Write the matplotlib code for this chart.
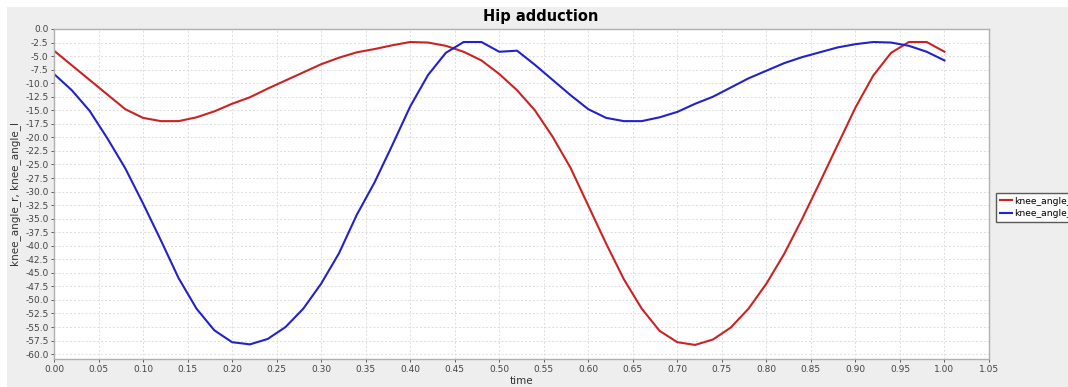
import matplotlib
matplotlib.use("Agg")
import matplotlib.pyplot as plt
import numpy as np
from matplotlib.patches import Rectangle
from matplotlib.ticker import MultipleLocator, FormatStrFormatter

# sample times and joint angles
time = [round(0.02 * i, 2) for i in range(51)]
knee_angle_r = [-4.0, -6.7, -9.4, -12.1, -14.8, -16.4, -17.0, -17.0, -16.3, -15.2,
                -13.8, -12.6, -11.0, -9.5, -8.0, -6.5, -5.3, -4.3, -3.7, -3.0,
                -2.4, -2.5, -3.1, -4.2, -5.8, -8.3, -11.3, -15.0, -19.9, -25.6,
                -32.6, -39.6, -46.2, -51.6, -55.7, -57.8, -58.3, -57.3, -55.1, -51.6,
                -47.0, -41.5, -35.1, -28.3, -21.4, -14.5, -8.6, -4.4, -2.4, -2.4,
                -4.2]
knee_angle_l = [-8.3, -11.3, -15.1, -20.2, -25.7, -32.2, -39.0, -46.0, -51.6, -55.6,
                -57.8, -58.2, -57.2, -55.0, -51.6, -47.0, -41.4, -34.3, -28.3, -21.4,
                -14.3, -8.5, -4.4, -2.4, -2.4, -4.2, -4.0, -6.6, -9.4, -12.2,
                -14.8, -16.4, -17.0, -17.0, -16.3, -15.3, -13.8, -12.5, -10.8, -9.1,
                -7.7, -6.3, -5.2, -4.3, -3.4, -2.8, -2.4, -2.5, -3.1, -4.2,
                -5.8]
series_names = ["knee_angle_r", "knee_angle_l"]
series_colors = ["#cc2222", "#2222cc"]

W, H = 1068, 387
fig = plt.figure(figsize=(W / 100, H / 100), dpi=100, facecolor="white")
fig.patches.append(Rectangle((7 / W, 0), 1, 1 - 7 / H, transform=fig.transFigure,
                             facecolor="#eeeeee", edgecolor="none", zorder=-10))

ax = fig.add_axes([54 / W, 28 / H, (989 - 54) / W, (359 - 29) / H])
ax.set_facecolor("white")
for name, vals, c in zip(series_names, [knee_angle_r, knee_angle_l], series_colors):
    ax.plot(time, vals, color=c, lw=1.5, label=name)

ax.set_xlim(0, 1.05)
ax.set_ylim(-60.9, 0)
ax.xaxis.set_major_locator(MultipleLocator(0.05))
ax.yaxis.set_major_locator(MultipleLocator(2.5))
ax.xaxis.set_major_formatter(FormatStrFormatter("%.2f"))
ax.yaxis.set_major_formatter(FormatStrFormatter("%.1f"))
ax.tick_params(labelsize=6.5, colors="#444444", length=2, width=0.6, pad=2)
ax.grid(True, color="#dddddd", ls=(0, (2, 2)), lw=0.7)
for s in ax.spines.values():
    s.set_color("#b0b0b0")
    s.set_linewidth(1)

ax.set_xlabel("time", fontsize=7.5, color="#333333", labelpad=2)
ax.set_ylabel("knee_angle_r, knee_angle_l", fontsize=7.5, color="#333333", labelpad=3)
fig.text(541 / W, 1 - 17 / H, "Hip adduction", ha="center", va="center",
         fontsize=10.5, fontweight="bold")

# legend sits at the right edge and runs past it, as in the source image
fig.legend(loc="upper left", bbox_to_anchor=(996 / W, 1 - 193 / H), fontsize=6.6,
           frameon=True, fancybox=False, edgecolor="#333333", facecolor="white",
           handlelength=1.3, handletextpad=0.3, borderpad=0.4, labelspacing=0.4,
           borderaxespad=0)

fig.savefig("out.png", dpi=100, facecolor=fig.get_facecolor())
